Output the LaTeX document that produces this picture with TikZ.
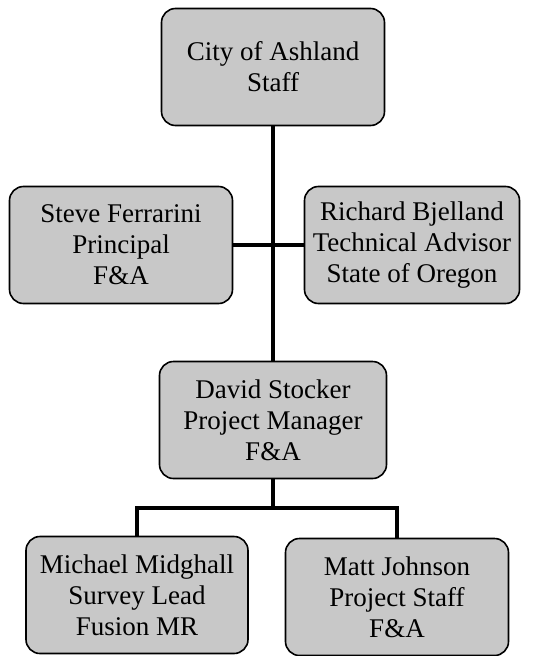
\documentclass[tikz,border=0pt]{standalone}
\usepackage{fontspec}
\setmainfont{Liberation Serif}
\definecolor{boxgray}{RGB}{200,200,200}
\begin{document}
\begin{tikzpicture}[x=1pt, y=1pt]
	\tikzstyle{place}=[rectangle, rounded corners=14pt, draw=black, line width=1.6pt, fill=boxgray, minimum width=223pt, minimum height=117pt, align=center, font=\fontsize{27}{31}\selectfont]
	\tikzstyle{link}=[line width=3.8pt, black]
	\useasboundingbox (0, 0) rectangle (533, -656);
	\draw node[place] at (273, -67) (city) {City of Ashland\\Staff};
	\draw node[place] at (121, -245) (steve) {Steve Ferrarini\\Principal\\F\&A};
	\draw node[place, minimum width=215pt] at (412, -245) (richard) {Richard Bjelland\\Technical Advisor\\State of Oregon};
	\draw node[place, minimum width=227pt] at (273, -420) (david) {David Stocker\\Project Manager\\F\&A};
	\draw node[place, minimum width=222pt] at (137, -595) (michael) {Michael Midghall\\Survey Lead\\Fusion MR};
	\draw node[place] at (397, -597) (matt) {Matt Johnson\\Project Staff\\F\&A};
	\coordinate (split) at (273, -508);

	\draw [link] (city) -- (david);
	\draw [link] (steve) -- (richard);
	\draw [link] (david) -- (split);
	\draw [link] (split) -| (michael);
	\draw [link] (split) -| (matt);
\end{tikzpicture}
\end{document}
